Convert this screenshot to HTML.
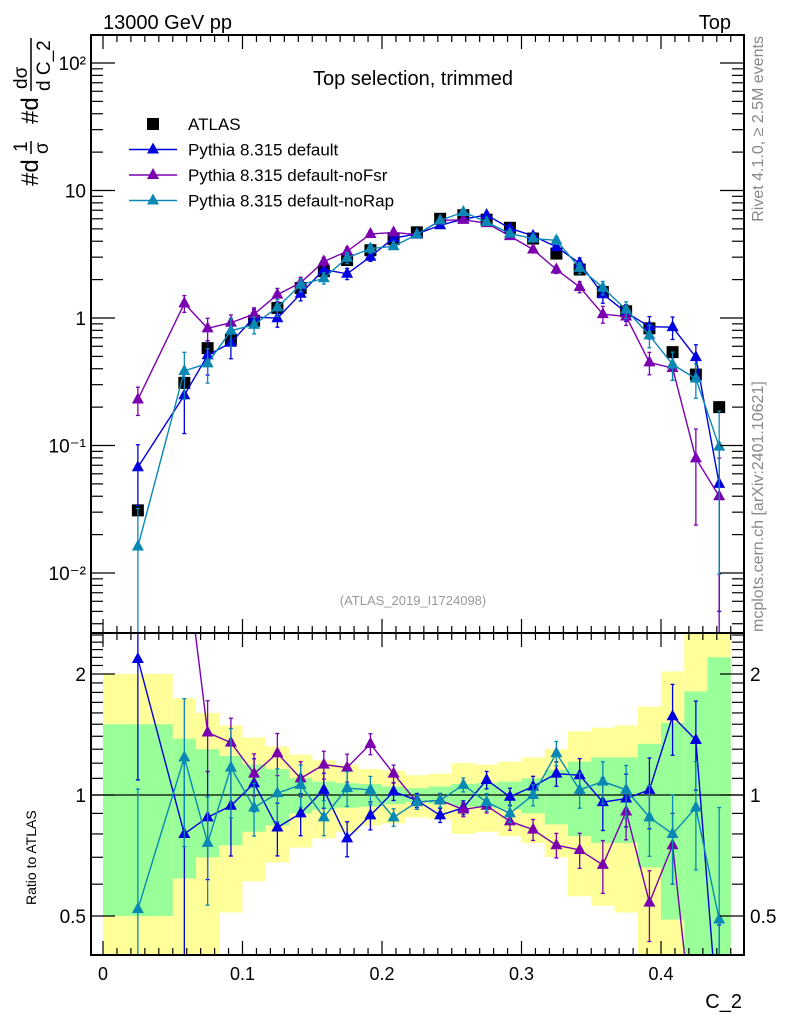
<!DOCTYPE html>
<html><head><meta charset="utf-8"><style>
html,body{margin:0;padding:0;background:#fff;width:786px;height:1024px;overflow:hidden;}
svg{display:block;font-family:"Liberation Sans",Arial,sans-serif;overflow:hidden;}
</style></head><body>
<svg id="chart" width="786" height="1024" viewBox="0 0 786 1024">
<rect x="0" y="0" width="786" height="1024" fill="#fff"/>
<g id="bands"></g>
<g id="series"></g>
<g id="axes"></g>
<text x="103" y="29" font-size="20">13000 GeV pp</text>
<text x="731" y="29" font-size="20" text-anchor="end">Top</text>
<text x="413" y="85" font-size="20" text-anchor="middle">Top selection, trimmed</text>
<text x="413" y="605" font-size="13" fill="#999" text-anchor="middle">(ATLAS_2019_I1724098)</text>
<text transform="translate(763,36) rotate(-90)" font-size="16" fill="#888" text-anchor="end">Rivet 4.1.0, ≥ 2.5M events</text>
<text transform="translate(763,632) rotate(-90)" font-size="16" fill="#888" text-anchor="start">mcplots.cern.ch [arXiv:2401.10621]</text>
<g transform="translate(38,186) rotate(-90)" font-size="24">
 <text x="0" y="0">#d</text>
 <text x="34" y="-11" font-size="19">1</text>
 <line x1="32" y1="-7" x2="45" y2="-7" stroke="#000" stroke-width="1.5"/>
 <text x="32" y="10" font-size="19">σ</text>
 <text x="62" y="0">#d</text>
 <text x="97" y="-11" font-size="19">dσ</text>
 <line x1="95" y1="-7" x2="148" y2="-7" stroke="#000" stroke-width="1.5"/>
 <text x="95" y="12" font-size="19">d C_2</text>
</g>
<text transform="translate(36,905) rotate(-90)" font-size="14">Ratio to ATLAS</text>
<text x="742" y="1008" font-size="20" text-anchor="end">C_2</text>
<g id="legend"></g>
</svg>
<script>
// ---- data ----
const binEdges = [0,0.05,0.0667,0.0833,0.1,0.1167,0.1333,0.15,0.1667,0.1833,0.2,0.2167,0.2333,0.25,0.2667,0.2833,0.3,0.3167,0.3333,0.35,0.3667,0.3833,0.4,0.4167,0.4333,0.45];
const xCenters = [0.025,0.0583,0.075,0.0917,0.1083,0.125,0.1417,0.1583,0.175,0.1917,0.2083,0.225,0.2417,0.2583,0.275,0.2917,0.3083,0.325,0.3417,0.3583,0.375,0.3917,0.4083,0.425,0.4417];
const atlasValues = [0.031,0.31,0.58,0.68,0.95,1.2,1.72,2.33,2.85,3.4,4.15,4.7,6.0,6.4,5.9,5.1,4.2,3.2,2.4,1.6,1.13,0.83,0.54,0.36,0.2];
const atlasTotalErr = [1.0,0.74,0.60,0.49,0.39,0.32,0.26,0.22,0.19,0.16,0.15,0.12,0.13,0.20,0.19,0.21,0.24,0.30,0.44,0.47,0.49,0.66,1.03,1.6,1.6];
const atlasStatErr = [0.5,0.38,0.30,0.25,0.19,0.16,0.10,0.08,0.07,0.065,0.05,0.04,0.05,0.065,0.07,0.08,0.10,0.155,0.21,0.24,0.24,0.34,0.51,0.81,1.2];
const ratioDefault = [2.18,0.80,0.88,0.94,1.07,0.83,0.90,1.03,0.78,0.89,1.02,0.97,0.89,0.93,1.09,0.99,1.05,1.13,1.12,0.96,0.98,1.03,1.57,1.37,0.25];
const ratioNoFsr = [7.4,4.2,1.43,1.35,1.13,1.27,1.10,1.19,1.17,1.34,1.13,0.96,0.97,0.92,0.94,0.86,0.82,0.75,0.73,0.67,0.91,0.54,0.75,0.22,0.2];
const ratioNoRap = [0.52,1.24,0.76,1.17,0.93,1.01,1.06,0.88,1.04,1.03,0.88,0.96,0.97,1.06,0.96,0.90,1.00,1.27,1.03,1.08,1.03,0.88,0.80,0.93,0.49];
const errDefault = [0.5,0.5,0.3,0.25,0.15,0.15,0.12,0.1,0.1,0.08,0.05,0.04,0.04,0.04,0.05,0.05,0.06,0.07,0.1,0.15,0.15,0.2,0.2,0.25,0.9];
const errNoFsr = [0.25,0.15,0.2,0.15,0.12,0.12,0.1,0.08,0.08,0.06,0.05,0.04,0.04,0.04,0.04,0.05,0.06,0.07,0.1,0.15,0.15,0.2,0.2,0.7,0.99];
const errNoRap = [0.99,0.4,0.3,0.25,0.15,0.15,0.12,0.1,0.1,0.08,0.05,0.04,0.04,0.04,0.05,0.05,0.06,0.07,0.1,0.12,0.15,0.2,0.25,0.3,0.9];
const mainTickLabels = ["10\u207B\u00B2","10\u207B\u00B9","1","10","10\u00B2"];
const xTickLabels = ["0","0.1","0.2","0.3","0.4"];
const ratioTickLabels = ["0.5","1","2"];

// ---- geometry ----
const L=91,R=744,T=35,MID=633,B=955;
const X=v=>103+v*1395;
const Ym=v=>318-127.5*Math.log10(v);
const Yr=r=>795-402*Math.log10(r);
const NS='http://www.w3.org/2000/svg';
function mk(tag,attrs,parent){const e=document.createElementNS(NS,tag);for(const k in attrs)e.setAttribute(k,attrs[k]);parent.appendChild(e);return e;}
const clampR=y=>Math.max(MID,Math.min(B,y));

// bands
const bands=document.getElementById('bands');
function band(errs,color,name){
  for(let i=0;i<errs.length;i++){
    const x0=X(binEdges[i]),x1=X(binEdges[i+1]);
    const up=clampR(Yr(1+errs[i])), lo=1-errs[i]>0.01?clampR(Yr(1-errs[i])):B;
    const r=mk('rect',{x:x0,y:up,width:x1-x0,height:lo-up,fill:color},bands);
    
    
  }
}
band(atlasTotalErr,'#ffff99','total-uncertainty-band');
band(atlasStatErr,'#99ff99','stat-uncertainty-band');
mk('line',{x1:L,y1:Yr(1),x2:R,y2:Yr(1),stroke:'#000','stroke-width':1.3},bands);

// clip a polyline to y range, drawing segments
function drawClipped(pts,ymin,ymax,g,color){
  for(let i=0;i<pts.length-1;i++){
    let [x1,y1]=pts[i],[x2,y2]=pts[i+1];
    if((y1<ymin&&y2<ymin)||(y1>ymax&&y2>ymax))continue;
    const cl=(xa,ya,xb,yb)=>{ // move a toward b to within range
      let yt=ya<ymin?ymin:(ya>ymax?ymax:ya);
      if(yt===ya)return [xa,ya];
      const f=(yt-ya)/(yb-ya);return [xa+f*(xb-xa),yt];
    };
    const a=cl(x1,y1,x2,y2),b=cl(x2,y2,x1,y1);
    mk('line',{x1:a[0],y1:a[1],x2:b[0],y2:b[1],stroke:color,'stroke-width':1.4},g);
  }
}
const ser=document.getElementById('series');
function tri(g,x,y,c){mk('path',{d:`M${x} ${y-7}L${x+6} ${y+4}L${x-6} ${y+4}Z`,fill:c},g);}
function errbar(g,x,hi,lo,ymin,ymax,color){
  hi=Math.max(ymin,hi);lo=Math.min(ymax,lo);
  if(hi>=lo)return;
  mk('line',{x1:x,y1:hi,x2:x,y2:lo,stroke:color,'stroke-width':1.3},g);
  if(hi>ymin)mk('line',{x1:x-2,y1:hi,x2:x+2,y2:hi,stroke:color,'stroke-width':1.3},g);
  if(lo<ymax)mk('line',{x1:x-2,y1:lo,x2:x+2,y2:lo,stroke:color,'stroke-width':1.3},g);
}
function drawMC(ratios,errs,color,name){
  const gm=mk('g',{},ser);
  const gr=mk('g',{},ser);
  const pm=[],pr=[];
  for(let i=0;i<ratios.length;i++){
    const x=X(xCenters[i]);const v=atlasValues[i]*ratios[i];
    pm.push([x,Ym(v)]);pr.push([x,Yr(ratios[i])]);
  }
  drawClipped(pm,T,MID,gm,color);
  drawClipped(pr,MID,B,gr,color);
  for(let i=0;i<ratios.length;i++){
    const x=X(xCenters[i]);const v=atlasValues[i]*ratios[i];const e=errs[i];
    const lo=v*(1-e)>0?Ym(v*(1-e)):MID, hi=Ym(v*(1+e));
    errbar(gm,x,hi,lo,T,MID,color);
    const ym=Ym(v);if(ym>T+4&&ym<MID-4)tri(gm,x,ym,color);
    const r=ratios[i];const rlo=r*(1-e)>0?Yr(r*(1-e)):B, rhi=Yr(r*(1+e));
    errbar(gr,x,rhi,rlo,MID,B,color);
    const yr=Yr(r);if(yr>MID+4&&yr<B-4)tri(gr,x,yr,color);
  }
}
// atlas
const ga=mk('g',{},ser);


for(let i=0;i<atlasValues.length;i++){
  const s=mk('rect',{x:X(xCenters[i])-6,y:Ym(atlasValues[i])-6,width:12,height:12,fill:'#000'},ga);
  
  
}
drawMC(ratioDefault,errDefault,'#0000e0','pythia-default');
drawMC(ratioNoFsr,errNoFsr,'#7a00b0','pythia-nofsr');
drawMC(ratioNoRap,errNoRap,'#0a88b5','pythia-norap');

// axes
const ax=document.getElementById('axes');
mk('rect',{x:L,y:T,width:R-L,height:B-T,fill:'none',stroke:'#000','stroke-width':2},ax);
mk('line',{x1:L,y1:MID,x2:R,y2:MID,stroke:'#000','stroke-width':2},ax);
function t(x1,y1,x2,y2){mk('line',{x1,y1,x2,y2,stroke:'#000','stroke-width':1.2},ax);}
for(let k=0;k<=45;k++){
  const x=X(k*0.01);const len=k%10===0?14:7;
  t(x,T,x,T+len);t(x,MID,x,MID-len);t(x,MID,x,MID+len);t(x,B,x,B-len);
}
xTickLabels.forEach((s,i)=>{const e=mk('text',{x:X(i*0.1),y:980,'font-size':18,'text-anchor':'middle'},ax);e.textContent=s;
 });
for(let d=-3;d<=2;d++){
  for(let m=1;m<10;m++){const y=Ym(m*Math.pow(10,d));if(y<T||y>MID)continue;const len=m===1?24:12;t(L,y,L+len,y);t(R,y,R-len,y);}
}
mainTickLabels.forEach((s,i)=>{const e=mk('text',{x:86,y:Ym(Math.pow(10,i-2))+7,'font-size':19,'text-anchor':'end'},ax);e.textContent=s;
 });
[0.4,0.5,0.6,0.7,0.8,0.9,1,1.1,1.2,1.3,1.4,1.5,1.6,1.7,1.8,1.9,2,2.1,2.2,2.3,2.4,2.5].forEach(r=>{
  const y=Yr(r);if(y<MID||y>B)return;const len=(r===0.5||r===1||r===2)?24:12;t(L,y,L+len,y);t(R,y,R-len,y);});
[0.5,1,2].forEach((r,i)=>{
  const e=mk('text',{x:86,y:Yr(r)+7,'font-size':19,'text-anchor':'end'},ax);e.textContent=ratioTickLabels[i];
  
  const f=mk('text',{x:750,y:Yr(r)+7,'font-size':19},ax);f.textContent=ratioTickLabels[i];
  
});

// legend
const lg=document.getElementById('legend');
const entries=[['ATLAS','#000',true],['Pythia 8.315 default','#0000e0',false],['Pythia 8.315 default-noFsr','#7a00b0',false],['Pythia 8.315 default-noRap','#0a88b5',false]];
entries.forEach((en,i)=>{
  const y=124+i*25.5;
  const g=mk('g',{},lg);
  
  
  if(en[2]){mk('rect',{x:147,y:y-6,width:12,height:12,fill:'#000'},g);}
  else{mk('line',{x1:129,y1:y,x2:177,y2:y,stroke:en[1],'stroke-width':1.4},g);tri(g,153,y,en[1]);}
  const tx=mk('text',{x:188,y:y+6,'font-size':17},g);tx.textContent=en[0];
});
</script>
</body></html>
